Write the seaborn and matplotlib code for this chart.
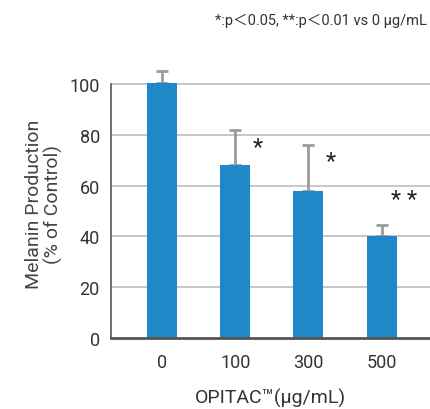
import numpy as np
import pandas as pd
import matplotlib.pyplot as plt
import seaborn as sns

doses = ["0", "100", "300", "500"]
melanin = [100.5, 68, 58, 40]
err_upper = [4.5, 14, 18, 4.5]
marks = ["", "*", "*", "* *"]
mark_heights = [0, 75.5, 70, 54.5]

BAR_COLOR = "#1f88c9"
TEXT_COLOR = "#333333"

sns.set_style("white")
plt.rcParams["font.family"] = ["Roboto", "Noto Sans CJK JP", "DejaVu Sans"]

data = pd.DataFrame({"dose": doses, "melanin": melanin})

fig = plt.figure(figsize=(4.31, 4.10), dpi=100)
ax = fig.add_axes([0.2575, 0.173, 0.740, 0.657])

# gridlines first so they sit behind the bars
for y in [20, 40, 60, 80, 100]:
    ax.axhline(y, color="#bdbdbd", linewidth=1.2, zorder=0)

sns.barplot(data=data, x="dose", y="melanin", color=BAR_COLOR,
            width=0.41, saturation=1, linewidth=0, ax=ax, zorder=2)

x = np.arange(len(doses))
ax.errorbar(x, melanin, yerr=[np.zeros(len(doses)), err_upper], fmt="none",
            ecolor="#9a9a9a", elinewidth=2, capsize=4.5, capthick=2, zorder=1)

for xi, m, h in zip(x, marks, mark_heights):
    if m:
        ax.text(xi + 0.31, h, m, ha="center", va="center",
                fontsize=17, color="#222222")

ax.set_xlim(-0.70, 3.66)
ax.set_ylim(0, 106)
ax.set_yticks([0, 20, 40, 60, 80, 100])
ax.tick_params(axis="both", labelsize=13, colors=TEXT_COLOR, length=0, pad=8)
ax.tick_params(axis="x", pad=11)

for side in ["top", "right"]:
    ax.spines[side].set_visible(False)
ax.spines["left"].set_color("#555555")
ax.spines["left"].set_linewidth(1.2)
ax.spines["left"].set_bounds(0, 100)
ax.spines["bottom"].set_color("#555555")
ax.spines["bottom"].set_linewidth(2)
ax.spines["bottom"].set_zorder(3)

ax.set_xlabel("OPITAC\u2122(\u03bcg/mL)", fontsize=14, color=TEXT_COLOR, labelpad=12)
ax.set_ylabel("Melanin Production\n(% of Control)", fontsize=14, color="#444444",
              labelpad=5, linespacing=1.05)

fig.text(0.99, 0.95, "*:p\uff1c0.05, **:p\uff1c0.01 vs 0 \u03bcg/mL",
         ha="right", va="center", fontsize=10.5, color=TEXT_COLOR)

fig.savefig("out.png", dpi=100)
plt.close(fig)
